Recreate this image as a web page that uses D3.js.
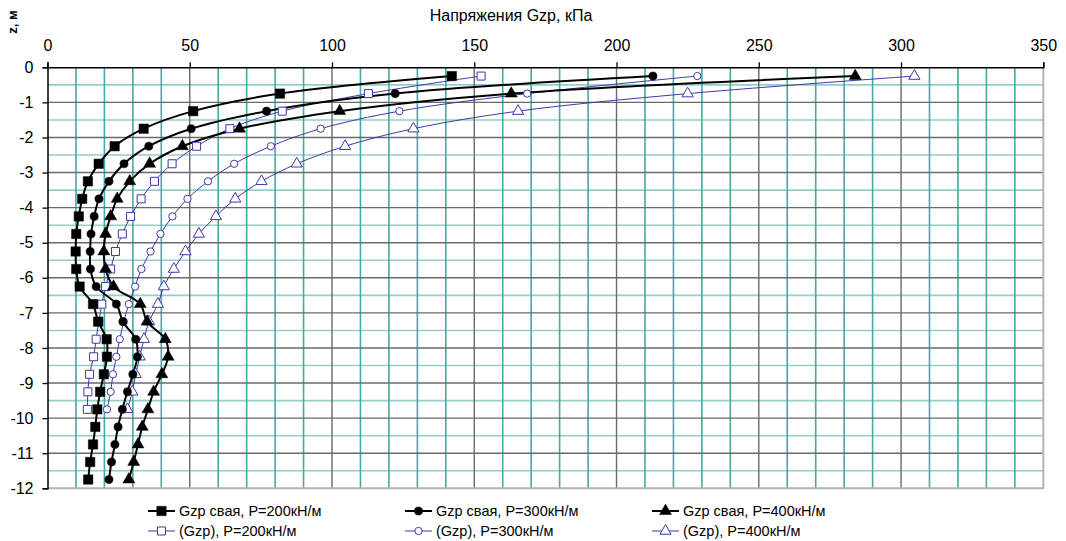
<!DOCTYPE html>
<html>
<head>
<meta charset="utf-8">
<script src="https://cdn.jsdelivr.net/npm/d3@7"></script>
<style>
  html, body { margin: 0; padding: 0; background: #fff; }
  svg { display: block; font-family: "Liberation Sans", Arial, sans-serif; }
</style>
</head>
<body>
<svg id="chart" width="1066" height="541"></svg>
<script>
// Depths of the calculation points, m
const depthsPile = [-0.25, -0.75, -1.25, -1.75, -2.25, -2.75, -3.25, -3.75, -4.25, -4.75, -5.25, -5.75,
                    -6.25, -6.75, -7.25, -7.75, -8.25, -8.75, -9.25, -9.75, -10.25, -10.75, -11.25, -11.75];
const depthsSoil = depthsPile.slice(0, 20);

// Stress Gzp, kPa — pile
const pile200 = [142.1, 81.7, 51.2, 33.8, 23.6, 18.0, 14.2, 12.2, 11.0, 10.1, 9.9, 10.1,
                 11.3, 16.0, 17.8, 20.8, 20.9, 19.8, 18.5, 17.5, 16.8, 16.0, 15.0, 14.3];
const pile300 = [212.8, 122.2, 77.0, 50.5, 35.6, 26.9, 21.6, 18.1, 16.4, 15.3, 15.0, 15.1,
                 17.1, 24.2, 26.5, 31.0, 31.6, 30.0, 28.1, 26.3, 24.8, 23.7, 22.5, 21.6];
const pile400 = [283.9, 163.0, 102.7, 67.5, 47.4, 35.9, 28.9, 24.5, 22.2, 20.4, 19.8, 20.4,
                 23.2, 32.6, 35.0, 41.4, 42.4, 40.2, 37.3, 35.3, 33.3, 31.8, 30.3, 28.6];

// Stress (Gzp), kPa — without pile
const soil200 = [152.4, 112.8, 82.5, 64.1, 52.4, 43.8, 37.6, 32.9, 29.2, 26.3, 23.9, 22.2,
                 20.4, 19.1, 18.0, 17.1, 16.2, 14.8, 14.2, 14.0];
const soil300 = [228.4, 168.6, 123.7, 96.0, 78.5, 65.6, 56.4, 49.2, 43.9, 39.7, 36.2, 33.0,
                 30.8, 28.6, 26.8, 25.4, 24.2, 23.0, 22.2, 20.9];
const soil400 = [304.7, 225.0, 165.4, 128.6, 104.6, 87.6, 75.2, 66.0, 59.2, 53.2, 48.5, 44.4,
                 40.9, 38.8, 35.7, 33.9, 32.4, 31.0, 29.8, 28.1];

const xTicks = [0, 50, 100, 150, 200, 250, 300, 350];
const yTicks = [0, -1, -2, -3, -4, -5, -6, -7, -8, -9, -10, -11, -12];

const seriesNames = [
  "Gzp свая, P=200кН/м", "Gzp свая, P=300кН/м", "Gzp свая, P=400кН/м",
  "(Gzp), P=200кН/м", "(Gzp), P=300кН/м", "(Gzp), P=400кН/м"
];

const titleText = "Напряжения Gzp, кПа";
const yTitleText = "z, м";

// ---- layout ----
const L = 47.5, R = 1043.3, T = 67.3, B = 488.3;
const BLACK = "#000", BLUE = "#3a3aaa";
const TEAL_V = "#43aaa4", TEAL_H = "#98ccc8", DARK = "#6a6a6a";
const FONT = "'Liberation Sans', Arial, sans-serif";

const svg = d3.select("#chart");
const x = d3.scaleLinear().domain([0, 350]).range([L, R]);
const y = d3.scaleLinear().domain([0, -12]).range([T, B]);

// ---- grid ----
const grid = svg.append("g");
const minorX = d3.range(10, 350, 10).filter(v => v % 50 !== 0);
const majorX = d3.range(50, 350, 50);
const minorY = d3.range(-0.5, -12, -1);
const majorY = d3.range(-1, -12, -1);

grid.selectAll(".hm").data(minorY).join("line")
  .attr("x1", L).attr("x2", R).attr("y1", d => y(d)).attr("y2", d => y(d))
  .attr("stroke", TEAL_H).attr("stroke-width", 1.6);
grid.selectAll(".vm").data(minorX).join("line")
  .attr("y1", T).attr("y2", B).attr("x1", d => x(d)).attr("x2", d => x(d))
  .attr("stroke", TEAL_V).attr("stroke-width", 1.6);
grid.selectAll(".hM").data(majorY).join("line")
  .attr("x1", L).attr("x2", R).attr("y1", d => y(d)).attr("y2", d => y(d))
  .attr("stroke", DARK).attr("stroke-width", 1.4);
grid.selectAll(".vM").data(majorX).join("line")
  .attr("y1", T).attr("y2", B).attr("x1", d => x(d)).attr("x2", d => x(d))
  .attr("stroke", DARK).attr("stroke-width", 1.4);
// right and bottom frame
grid.append("path")
  .attr("d", `M${x(350)},${y(0)}V${y(-12)}H${x(0)}`)
  .attr("fill", "none").attr("stroke", "#b4b4b4").attr("stroke-width", 2);

// ---- series ----
const series = [
  { name: seriesNames[0], xs: pile200, zs: depthsPile, color: BLACK, width: 2, shape: "square", filled: true },
  { name: seriesNames[1], xs: pile300, zs: depthsPile, color: BLACK, width: 2, shape: "circle", filled: true },
  { name: seriesNames[2], xs: pile400, zs: depthsPile, color: BLACK, width: 2, shape: "triangle", filled: true },
  { name: seriesNames[3], xs: soil200, zs: depthsSoil, color: BLUE, width: 1, shape: "square", filled: false },
  { name: seriesNames[4], xs: soil300, zs: depthsSoil, color: BLUE, width: 1, shape: "circle", filled: false },
  { name: seriesNames[5], xs: soil400, zs: depthsSoil, color: BLUE, width: 1, shape: "triangle", filled: false }
];

const line = d3.line()
  .x(d => x(d[0])).y(d => y(d[1]))
  .curve(d3.curveCatmullRom.alpha(0.5));

function symbolPath(shape, filled) {
  if (shape === "square") return d3.symbol(d3.symbolSquare, filled ? 88 : 64)();
  if (shape === "circle") return d3.symbol(d3.symbolCircle, filled ? 52 : 42)();
  return d3.symbol(d3.symbolTriangle, filled ? 62 : 54)();
}

function drawMarker(g, s, cx, cy) {
  g.append("path")
    .attr("d", symbolPath(s.shape, s.filled))
    .attr("transform", `translate(${cx},${cy})`)
    .attr("fill", s.filled ? s.color : "#fff")
    .attr("stroke", s.color)
    .attr("stroke-width", s.filled ? 0.5 : 1);
}

const plot = svg.append("g");
// blue (without pile) first, black (pile) on top
[3, 4, 5, 0, 1, 2].forEach(i => {
  const s = series[i];
  const pts = s.xs.map((v, k) => [v, s.zs[k]]);
  plot.append("path").attr("d", line(pts))
    .attr("fill", "none").attr("stroke", s.color).attr("stroke-width", s.width);
});
[3, 4, 5, 0, 1, 2].forEach(i => {
  const s = series[i];
  const g = plot.append("g");
  s.xs.forEach((v, k) => drawMarker(g, s, x(v), y(s.zs[k])));
});

// ---- axes ----
const xAxis = svg.append("g").attr("transform", `translate(0,${T})`)
  .call(d3.axisTop(x).tickValues(xTicks).tickSize(5).tickPadding(11).tickFormat(d3.format("d")));
const yAxis = svg.append("g").attr("transform", `translate(${L},0)`)
  .call(d3.axisLeft(y).tickValues(yTicks).tickSize(5).tickPadding(9).tickFormat(d3.format("d")));
[xAxis, yAxis].forEach(a => {
  a.select(".domain").attr("stroke", "#000").attr("stroke-width", 1.5);
  a.selectAll(".tick line").attr("stroke", "#000").attr("stroke-width", 1.3);
  a.selectAll(".tick text").attr("font-size", 16).attr("fill", "#000")
    .attr("font-family", FONT);
});
yAxis.selectAll(".tick text").text(d => String(d));

// ---- titles ----
svg.append("text").attr("x", 511).attr("y", 21).attr("text-anchor", "middle")
  .attr("font-size", 16).attr("font-family", FONT).text(titleText);
svg.append("text").attr("transform", "translate(17,22) rotate(-90)")
  .attr("text-anchor", "middle").attr("font-size", 13).attr("font-weight", "bold")
  .attr("font-family", FONT).text(yTitleText);

// ---- legend ----
const legend = svg.append("g");
const colX = [148, 405, 652];
const rowY = [511, 531];
series.forEach((s, i) => {
  const lx = colX[i % 3], ly = rowY[Math.floor(i / 3)];
  const g = legend.append("g");
  g.append("line").attr("x1", lx).attr("x2", lx + 27).attr("y1", ly).attr("y2", ly)
    .attr("stroke", s.color).attr("stroke-width", s.width);
  drawMarker(g, s, lx + 13.5, ly);
  g.append("text").attr("x", lx + 31).attr("y", ly).attr("dy", "0.35em")
    .attr("font-size", 14.5).attr("font-family", FONT).text(s.name);
});
</script>
</body>
</html>
